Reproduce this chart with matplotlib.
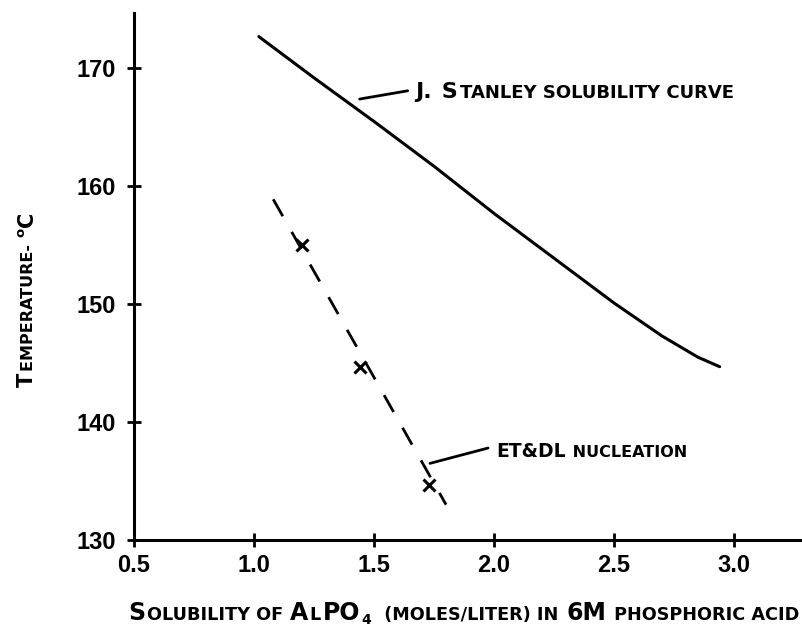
import matplotlib
matplotlib.use("Agg")
import matplotlib.pyplot as plt

# J. Stanley solubility curve
stanley_x = [1.02, 1.25, 1.5, 1.75, 2.0, 2.25, 2.5, 2.7, 2.85, 2.94]
stanley_y = [172.7, 169.2, 165.5, 161.7, 157.7, 153.9, 150.1, 147.3, 145.5, 144.7]

# ET&DL nucleation points and the dashed trend drawn through them
nucleation_x = [1.2, 1.44, 1.73]
nucleation_y = [155.0, 144.7, 134.7]
trend_x = [1.08, 1.80]
trend_y = [158.9, 133.0]

x_ticks = [0.5, 1.0, 1.5, 2.0, 2.5, 3.0]
x_labels = ["0.5", "1.0", "1.5", "2.0", "2.5", "3.0"]
y_ticks = [130, 140, 150, 160, 170]

TICKFONT = ["Liberation Sans", "DejaVu Sans"]
CAPS = ["DejaVu Sans"]


def small_caps(ax, x, y, parts, coords, rotate=False, gap=1.0):
    # parts: list of (text, size, dy) -> pieces chained one after another
    prev = None
    for s, size, dy in parts:
        kw = dict(fontsize=size, fontweight="bold", family=CAPS,
                  va="baseline", ha="left")
        if rotate:
            kw.update(rotation=90, rotation_mode="anchor")
        if prev is None:
            prev = ax.annotate(s, xy=(x, y), xycoords=coords,
                               xytext=(-dy, 0) if rotate else (0, dy),
                               textcoords="offset points", annotation_clip=False, **kw)
        elif rotate:
            prev = ax.annotate(s, xy=(x, 1), xycoords=(coords, prev),
                               xytext=(-dy, gap), textcoords="offset points",
                               annotation_clip=False, **kw)
        else:
            prev = ax.annotate(s, xy=(1, y), xycoords=(prev, coords),
                               xytext=(gap, dy), textcoords="offset points",
                               annotation_clip=False, **kw)
    return prev


fig = plt.figure(figsize=(8.02, 6.27), dpi=100)
ax = fig.add_axes([134 / 802, 1 - 540 / 627, 1 - 134 / 802, (540 - 13) / 627])

ax.plot(stanley_x, stanley_y, color="black", lw=2.2, solid_capstyle="round")
ax.plot(trend_x, trend_y, color="black", lw=2.0, linestyle=(0, (7, 6.5)))
ax.plot(nucleation_x, nucleation_y, linestyle="none", marker="x", color="black",
        markersize=8, markeredgewidth=2.2)

ax.set_xlim(0.5, 3.283)
ax.set_ylim(130, 174.7)

for side in ["top", "right"]:
    ax.spines[side].set_visible(False)
for side in ["left", "bottom"]:
    ax.spines[side].set_linewidth(2.2)

ax.set_xticks(x_ticks)
ax.set_xticklabels(x_labels)
ax.set_yticks(y_ticks)
ax.tick_params(direction="inout", length=10, width=2)
ax.tick_params(axis="x", pad=5)
ax.tick_params(axis="y", pad=8)
for lab in ax.get_xticklabels() + ax.get_yticklabels():
    lab.set_family(TICKFONT)
    lab.set_fontweight("bold")
    lab.set_fontsize(17)

# leader lines
ax.annotate("", xy=(1.44, 167.4), xytext=(1.64, 168.1),
            arrowprops=dict(arrowstyle="-", lw=2, color="black", shrinkA=0, shrinkB=0))
ax.annotate("", xy=(1.733, 136.5), xytext=(1.975, 137.8),
            arrowprops=dict(arrowstyle="-", lw=2, color="black", shrinkA=0, shrinkB=0))

small_caps(ax, 1.671, 167.5, [("J.", 16, 0), (" S", 16, 0),
                              ("TANLEY SOLUBILITY CURVE", 13, 0)], "data", gap=1.5)
small_caps(ax, 2.01, 137.0, [("ET&DL", 13.5, 0), (" NUCLEATION", 11.5, 0)], "data")

# axis titles
small_caps(ax, 128, 7, [("S", 17, 0), ("OLUBILITY OF ", 12.7, 0), ("A", 17, 0),
                        ("L", 12.7, 0), ("PO", 17, 0), ("4", 10, -3),
                        ("  (MOLES/LITER) IN ", 12.7, 0), ("6M", 17, 0),
                        (" PHOSPHORIC ACID", 12.7, 0)], "figure pixels")
small_caps(ax, 33, 240, [("T", 15, 0), ("EMPERATURE- ", 11.5, 0),
                         ("o", 9.5, 6), ("C", 15, 0)], "figure pixels", rotate=True)

fig.savefig("out.png", dpi=100)
